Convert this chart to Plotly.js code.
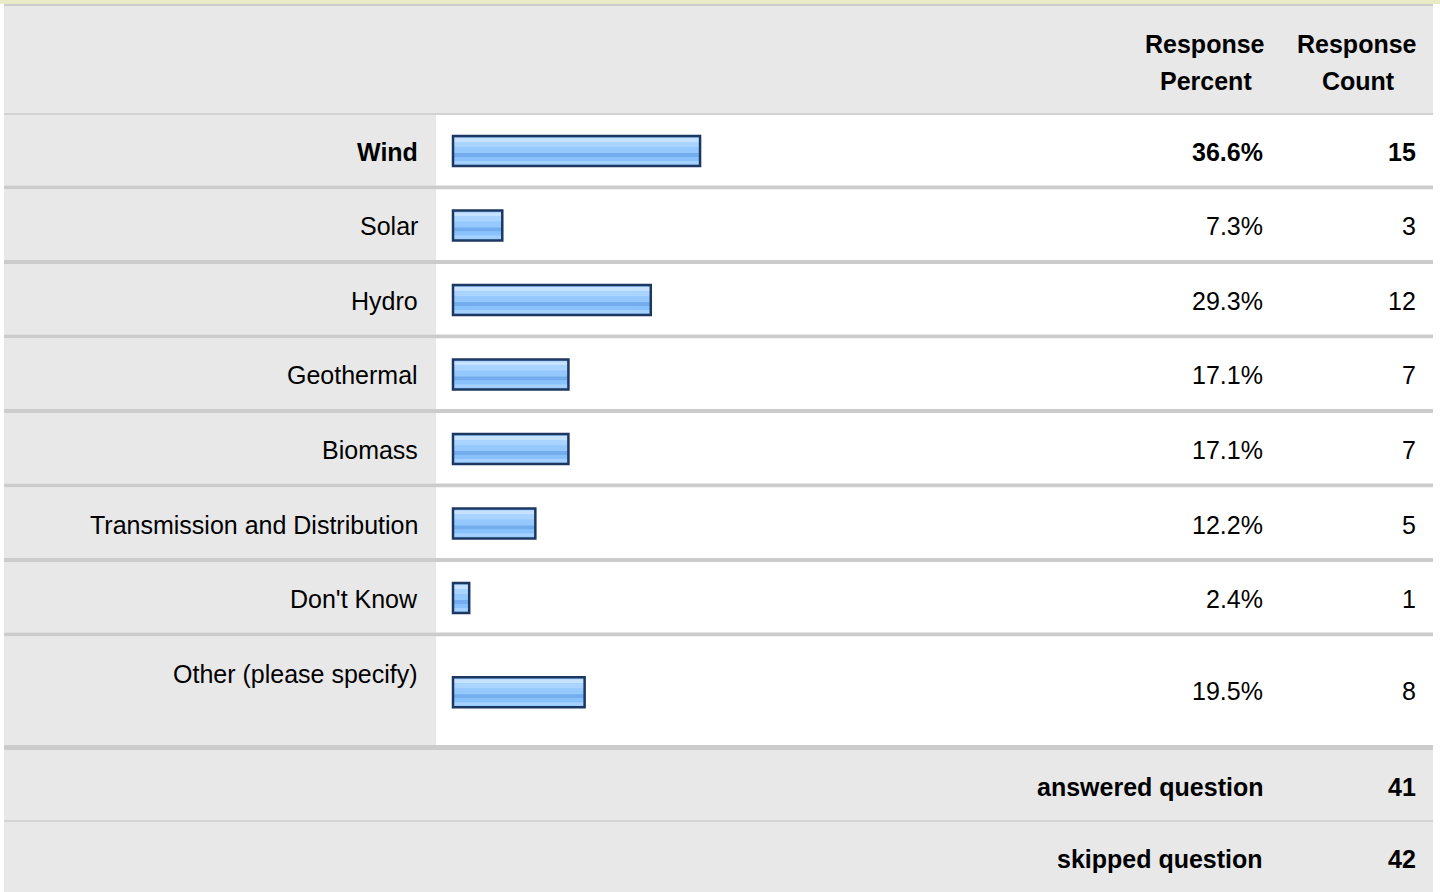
<!DOCTYPE html>
<html>
<head>
<meta charset="utf-8">
<script src="https://cdn.plot.ly/plotly-3.0.1.min.js"></script>
<style>
  html, body { margin: 0; padding: 0; background: #ffffff; }
  #chart { width: 1440px; height: 892px; }
</style>
</head>
<body>
<div id="chart"></div>
<script>
// ---------------- data ----------------
const categories = ['Wind', 'Solar', 'Hydro', 'Geothermal', 'Biomass',
  'Transmission and Distribution', "Don't Know", 'Other (please specify)'];
const responsePercent = [36.6, 7.3, 29.3, 17.1, 17.1, 12.2, 2.4, 19.5];
const responseCount = [15, 3, 12, 7, 7, 5, 1, 8];
const percentHeader = ['Response', 'Percent'];
const countHeader = ['Response', 'Count'];
const summaryLabels = ['answered question', 'skipped question'];
const summaryValues = [41, 42];

// ---------------- layout constants (pixels) ----------------
const W = 1440, H = 892;
const tableLeft = 4, tableRight = 1433, labelColRight = 436;
const headerTop = 6, headerBottom = 113;
const firstRowTop = 115, rowPeriod = 74.5, rowHeight = 70.5, sepH = 4;
const tallRowHeight = 108.5;
const pxPerPct = 6.75, barZeroPx = 453, barH = 30;
const FONT = 'Liberation Sans, Arial, Helvetica, sans-serif';
const FS = 25;

// row geometry
const rowTops = [], rowBottoms = [];
categories.forEach((c, i) => {
  const t = firstRowTop + i * rowPeriod;
  rowTops.push(t);
  rowBottoms.push(t + (i === categories.length - 1 ? tallRowHeight : rowHeight));
});
const tallRow = categories.length - 1;
const barCenters = rowTops.map((t, i) => i === tallRow ? (t + rowBottoms[i]) / 2 + 1.5 : t + 36);
const textCenters = rowTops.map((t) => t + 37);
const valueCenters = rowTops.map((t, i) => i === tallRow ? (t + rowBottoms[i]) / 2 : t + 37);

const px = (x) => x / W;
const py = (y) => 1 - y / H;

// ---------------- shapes (table background) ----------------
const shapes = [];
function rect(x0, y0, x1, y1, color) {
  shapes.push({ type: 'rect', xref: 'paper', yref: 'paper', layer: 'below',
    x0: px(x0), x1: px(x1), y0: py(y1), y1: py(y0),
    fillcolor: color, line: { width: 0 } });
}
rect(0, 0, W, 4, '#e7ecc5');
rect(tableLeft, 4, tableRight, 6, '#cccccc');
rect(tableLeft, headerTop, tableRight, headerBottom, '#e8e8e8');
rect(tableLeft, headerBottom, tableRight, firstRowTop, '#d2d2d2');
categories.forEach((c, i) => {
  rect(tableLeft, rowTops[i], labelColRight, rowBottoms[i], '#e8e8e8');
  rect(labelColRight, rowTops[i], tableRight, rowBottoms[i], '#ffffff');
  const sepBottom = rowBottoms[i] + (i === tallRow ? sepH + 1 : sepH);
  rect(tableLeft, rowBottoms[i], tableRight, sepBottom, '#cccccc');
});
const summaryTop = rowBottoms[tallRow] + sepH + 1;
const summaryRowH = 70;
rect(tableLeft, summaryTop, tableRight, summaryTop + summaryRowH, '#e8e8e8');
rect(tableLeft, summaryTop + summaryRowH, tableRight, summaryTop + summaryRowH + 2, '#d4d4d4');
rect(tableLeft, summaryTop + summaryRowH + 2, tableRight, H, '#e8e8e8');

// ---------------- annotations (text) ----------------
const annotations = [];
function txt(text, x, y, anchor, bold) {
  annotations.push({ xref: 'paper', yref: 'paper', x: px(x), y: py(y),
    xanchor: anchor, yanchor: 'middle', showarrow: false,
    text: bold ? '<b>' + text + '</b>' : text,
    font: { family: FONT, size: FS, color: '#000000' } });
}
txt(percentHeader[0], 1205, 44, 'center', true);
txt(percentHeader[1], 1206, 81, 'center', true);
txt(countHeader[0], 1357, 44, 'center', true);
txt(countHeader[1], 1358, 81, 'center', true);

const maxPct = Math.max(...responsePercent);
categories.forEach((c, i) => {
  const bold = responsePercent[i] === maxPct;
  txt(c, 420, textCenters[i], 'right', bold);
  txt(responsePercent[i].toFixed(1) + '%', 1265, valueCenters[i], 'right', bold);
  txt(String(responseCount[i]), 1418, valueCenters[i], 'right', bold);
});
summaryLabels.forEach((s, i) => {
  const yc = summaryTop + 37 + i * 72;
  txt(s, 1265, yc, 'right', true);
  txt(String(summaryValues[i]), 1418, yc, 'right', true);
});

// ---------------- bars (striped gradient look) ----------------
const stripes = [
  { off: -15, w: 30, color: '#95c9fd' },
  { off: -13, w: 4, color: '#c6e2ff' },
  { off: -9, w: 5, color: '#a8d4ff' },
  { off: 2, w: 4, color: '#73adee' },
  { off: 6, w: 4, color: '#88c1fb' },
  { off: 10, w: 3, color: '#a4d1ff' }
];
const traces = stripes.map((s) => ({
  type: 'bar', orientation: 'h',
  x: responsePercent, y: barCenters,
  width: s.w, offset: s.off,
  marker: { color: s.color, line: { width: 0 } },
  hoverinfo: 'skip', showlegend: false
}));
traces.push({
  type: 'bar', orientation: 'h',
  x: responsePercent, y: barCenters,
  width: barH, offset: -barH / 2,
  marker: { color: 'rgba(0,0,0,0)', line: { color: '#1c3760', width: 2.5 } },
  hoverinfo: 'skip', showlegend: false
});

const layout = {
  width: W, height: H,
  margin: { l: 0, r: 0, t: 0, b: 0, pad: 0 },
  paper_bgcolor: '#ffffff', plot_bgcolor: 'rgba(0,0,0,0)',
  barmode: 'overlay',
  showlegend: false,
  xaxis: { range: [-barZeroPx / pxPerPct, (W - barZeroPx) / pxPerPct], visible: false,
           fixedrange: true, showgrid: false, zeroline: false },
  yaxis: { range: [H, 0], visible: false, fixedrange: true, showgrid: false, zeroline: false },
  shapes: shapes,
  annotations: annotations,
  hovermode: false
};

Plotly.newPlot('chart', traces, layout, { displayModeBar: false, staticPlot: true });
</script>
</body>
</html>
